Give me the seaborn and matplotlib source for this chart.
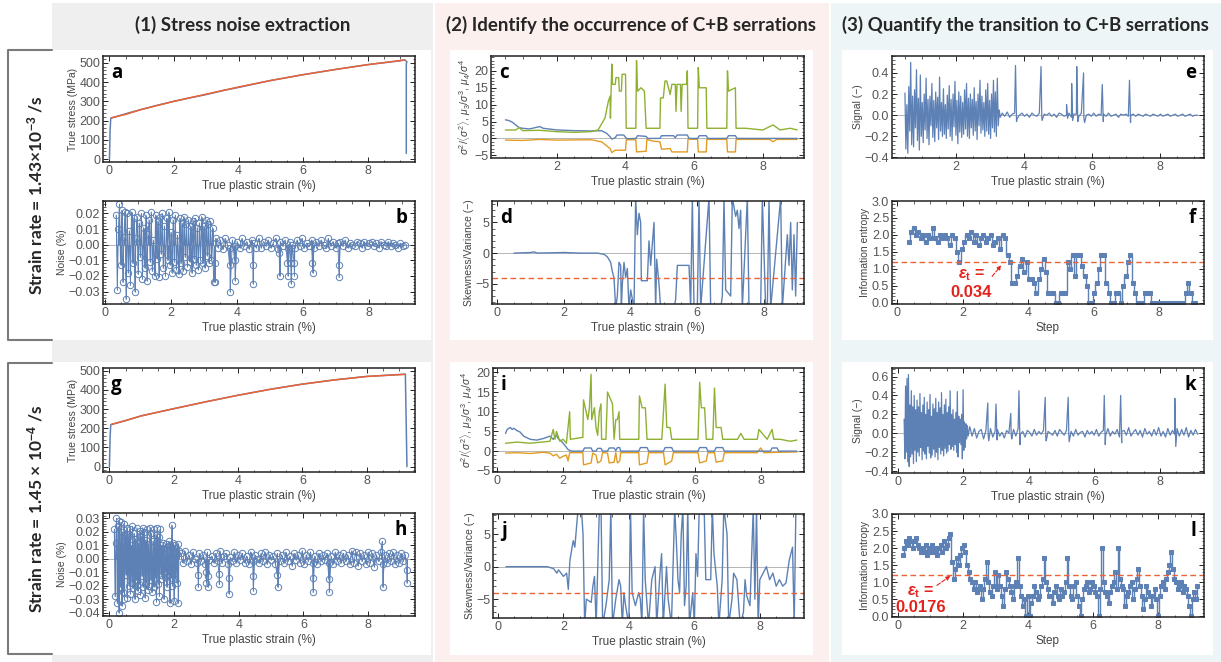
import matplotlib
matplotlib.use('Agg')
import matplotlib.pyplot as plt
import numpy as np
import seaborn as sns
from matplotlib.lines import Line2D
from matplotlib.patches import Rectangle
from matplotlib.ticker import AutoMinorLocator, FuncFormatter

sns.set_style('white')
plt.rcParams['font.family'] = ['Liberation Sans', 'DejaVu Sans']
plt.rcParams['mathtext.fontset'] = 'custom'
plt.rcParams['mathtext.rm'] = 'Liberation Sans'
plt.rcParams['mathtext.it'] = 'Liberation Sans:italic'
plt.rcParams['mathtext.bf'] = 'Liberation Sans:bold'
plt.rcParams['mathtext.bfit'] = 'Liberation Sans:italic:bold'

BLUE = '#5E81B5'
ORANGE = '#E19C24'
GREEN = '#8FB131'
RED = '#EB6235'
ANN = '#e3231b'

# ---------------- row 1 : 1.43e-3 /s ----------------
a_strain = [0.0, 0.02, 0.04, 0.3, 0.6, 1.0, 1.5, 2.0, 2.5, 3.0, 3.5, 4.0, 5.0, 6.0, 7.0, 8.0, 9.0, 9.15, 9.22, 9.2, 9.2]
a_stress = [0, 150, 212, 225, 240, 258, 280, 300, 318, 335, 355, 372, 408, 438, 465, 490, 510, 515, 505, 495, 30]
a_fit_strain = [0.05, 0.5, 1.0, 2.0, 3.0, 4.0, 5.0, 6.0, 7.0, 8.0, 9.0, 9.15]
a_fit_stress = [214, 232, 258, 300, 337, 374, 408, 438, 465, 490, 511, 514]

b_dense = [0.019, -0.029, 0.010, 0.026, -0.013, 0.022, -0.024, 0.005, 0.021, -0.035,
           0.020, -0.018, 0.009, -0.026, 0.021, -0.012, 0.017, -0.030, 0.004, 0.018,
           -0.019, 0.014, -0.008, 0.020, -0.022, 0.011, -0.015, 0.019, -0.023, 0.007,
           0.016, -0.011, 0.021, -0.017, 0.003, -0.020, 0.019, -0.009, 0.015, -0.021,
           0.018, -0.006, 0.020, -0.015, 0.012, -0.020, 0.017, -0.010, 0.021, -0.013,
           0.008, -0.018, 0.016, -0.011, 0.019, -0.016, 0.006, -0.019, 0.017, -0.012,
           0.014, -0.017, 0.018, -0.008, 0.013, -0.014, 0.016, -0.011, 0.012, -0.018,
           0.015, -0.009, 0.017, -0.013, 0.011, -0.016, 0.014, -0.010, 0.018, -0.012,
           0.012, -0.015, 0.016, -0.007, 0.013, -0.012, 0.015, -0.010, 0.011, -0.024]
b_quiet = [0.004, -0.002, 0.003, -0.003, 0.004, 0.000, -0.002, 0.003, -0.001, 0.002,
           -0.002, 0.004, -0.001, 0.002, -0.003, 0.003, 0.001, -0.002, 0.004, -0.002,
           0.002, -0.001, 0.003, -0.002, 0.001, 0.004, -0.003, 0.002, -0.001, 0.003,
           -0.002, 0.002, 0.000, -0.002, 0.003, -0.001, 0.004, -0.002, 0.001, -0.001,
           0.003, -0.002, 0.002, -0.001, 0.003, 0.000, -0.002, 0.004, -0.001, 0.002,
           -0.002, 0.001, 0.002, -0.001, 0.003, -0.002, 0.001, 0.000, -0.001, 0.002,
           0.001, -0.002, 0.002, -0.001, 0.001, 0.002, -0.001, 0.001, -0.002, 0.002,
           0.000, -0.001, 0.002, -0.001, 0.001, 0.000, -0.002, 0.001, -0.001, 0.000]
b_spike_x = [3.35, 3.8, 3.95, 4.5, 5.3, 5.55, 5.65, 5.75, 6.3, 7.1]
b_spike_mid = [-0.012, -0.013, -0.010, -0.013, -0.005, -0.012, -0.012, -0.012, -0.012, -0.013]
b_spike_y = [-0.024, -0.030, -0.023, -0.025, -0.020, -0.020, -0.025, -0.020, -0.018, -0.021]

c_blue_x = [0.5, 0.6, 0.7, 0.8, 0.9, 1.0, 1.2, 1.5, 1.6, 2.0, 2.5, 3.0, 3.3, 3.45, 3.55, 3.6, 3.7, 3.75, 3.95, 4.0,
            4.05, 4.3, 4.35, 4.6, 4.65, 5.0, 5.05, 5.4, 5.45, 5.5, 5.8, 5.85, 6.1, 6.15, 6.35, 6.4, 6.95, 7.0, 7.2,
            7.25, 9.0]
c_blue_y = [5.5, 5.3, 4.8, 4.0, 3.2, 3.0, 2.8, 3.5, 3.0, 2.5, 2.3, 2.2, 2.3, 1.5, 0.5, -0.2, 0.2, 1.0, 1.0, 0.3,
            -0.1, 0.0, 0.8, 0.6, 0.0, 0.0, 0.8, 0.8, 0.2, 1.0, 1.0, 0.0, 0.0, 0.8, 0.8, 0.0, 0.0, 0.8, 0.8,
            0.0, 0.0]
c_orange_x = [0.5, 1.0, 1.5, 2.0, 3.0, 3.3, 3.45, 3.55, 3.6, 3.7, 4.0, 4.02, 4.3, 4.32, 4.6, 4.62, 4.8, 5.0, 5.05,
              5.3, 5.35, 5.8, 5.82, 6.1, 6.12, 6.35, 6.37, 6.95, 6.97, 7.2, 7.22, 8.2, 8.3, 8.4, 9.0]
c_orange_y = [-0.5, -0.6, -0.3, -0.5, -0.4, -1.0, -2.2, -3.0, -4.2, -3.5, -3.5, -0.4, -0.4, -4.0, -3.8, -0.3,
              -0.8, -1.0, -3.2, -3.0, -4.0, -4.0, -0.2, -0.3, -4.0, -4.0, -0.3, -0.3, -4.0, -4.0, -0.3, -0.3,
              -1.0, -0.3, -0.3]
c_green_x = [0.5, 0.8, 0.9, 1.0, 1.5, 2.0, 2.5, 3.0, 3.2, 3.4, 3.5, 3.55, 3.56, 3.6, 3.62, 3.7, 3.72, 3.8, 3.82,
             3.88, 3.9, 4.0, 4.02, 4.3, 4.32, 4.35, 4.45, 4.55, 4.6, 5.0, 5.02, 5.1, 5.15, 5.2, 5.3, 5.35, 5.45,
             5.47, 5.5, 5.6, 5.62, 5.65, 5.78, 5.8, 5.82, 6.1, 6.12, 6.15, 6.35, 6.37, 6.95, 6.97, 7.0, 7.2, 7.22,
             7.5, 8.0, 8.3, 8.5, 8.8, 9.0]
c_green_y = [2.5, 2.5, 3.2, 2.3, 2.4, 2.0, 1.8, 2.0, 2.5, 6.0, 11.0, 12.5, 6.0, 22.0, 16.0, 16.0, 18.0, 18.0, 14.0,
             14.0, 19.0, 19.0, 3.0, 3.0, 23.0, 14.0, 15.0, 14.0, 3.0, 3.0, 12.0, 12.0, 17.0, 17.0, 13.0, 16.0, 16.0,
             8.0, 16.0, 16.0, 8.0, 16.0, 16.0, 20.0, 3.0, 3.0, 21.0, 15.0, 15.0, 3.0, 3.0, 20.0, 14.0, 15.0, 3.0,
             3.0, 2.5, 4.0, 2.5, 3.0, 2.5]

d_x = [0.5, 1.0, 1.1, 1.2, 2.0, 2.5, 3.0, 3.2, 3.3, 3.4, 3.45, 3.5, 3.55, 3.6, 3.65, 3.7, 3.72, 3.75, 3.8, 3.85,
       3.9, 3.95, 4.0, 4.1, 4.15, 4.2, 4.25, 4.3, 4.32, 4.5, 4.55, 4.6, 4.7, 4.75, 4.78, 4.85, 4.9, 5.3, 5.35,
       5.4, 5.75, 5.8, 5.85, 5.9, 6.0, 6.05, 6.1, 6.35, 6.4, 6.7, 6.75, 6.8, 6.85, 7.0, 7.05, 7.15, 7.2, 7.25,
       7.3, 7.35, 7.5, 7.55, 7.9, 7.95, 8.05, 8.1, 8.15, 8.2, 8.5, 8.55, 8.7, 8.75, 8.8, 8.85, 8.9, 8.95, 9.0]
d_y = [0.0, 0.1, 0.2, 0.0, 0.1, 0.0, 0.0, -0.2, -0.6, -1.5, -3.0, -4.0, -9.0, -7.0, -1.5, -2.0, -9.0, -5.0, -1.5,
       -4.0, -2.5, -9.0, -6.0, -9.0, 9.0, 3.0, 6.5, 5.0, -4.5, -4.5, 2.0, -2.0, 5.0, -9.0, -1.0, -5.0, -9.0,
       -9.0, -7.5, -2.0, -2.0, -9.0, 9.0, -9.0, -9.0, 9.0, -9.0, 9.0, -9.0, -9.0, -7.0, 9.0, -6.0, -7.0, 9.0,
       6.0, 7.0, 4.0, 7.0, -9.0, 9.0, -9.0, -9.0, 9.0, -9.0, -9.0, 9.0, -9.0, 9.0, -9.0, 3.0, -2.0, 5.0, -6.0,
       3.0, -7.0, 5.0]

e_dense = [0.21, -0.32, 0.10, -0.36, 0.27, -0.15, 0.50, -0.28, 0.18, -0.30,
           0.24, -0.12, 0.43, -0.24, 0.16, -0.33, 0.38, -0.20, 0.12, -0.26,
           0.20, -0.14, 0.35, -0.22, 0.15, -0.28, 0.18, -0.10, 0.30, -0.21,
           0.14, -0.25, 0.22, -0.12, 0.17, -0.23, 0.36, -0.15, 0.12, -0.20,
           0.25, -0.18, 0.10, -0.22, 0.19, -0.13, 0.28, -0.20, 0.15, -0.24,
           0.20, -0.11, 0.32, -0.19, 0.14, -0.27, 0.22, -0.16, 0.18, -0.21,
           0.12, -0.18, 0.24, -0.13, 0.30, -0.20, 0.16, -0.22, 0.20, -0.12,
           0.15, -0.19, 0.26, -0.15, 0.13, -0.23, 0.20, -0.10, 0.33, -0.17,
           0.18, -0.14, 0.12, -0.20, 0.24, -0.15, 0.30, -0.18, 0.14, -0.22,
           0.20, -0.12, 0.33, -0.16, 0.22, -0.20, 0.35, -0.10, 0.05, -0.02]
e_quiet = [0.02, -0.01, 0.03, -0.02, 0.01, 0.02, -0.03, 0.00, 0.02, -0.01,
           0.01, -0.02, 0.02, 0.00, -0.01, 0.02, -0.02, 0.01, 0.00, 0.02,
           -0.01, 0.01, -0.02, 0.02, 0.01, -0.01, 0.00, 0.02, -0.02, 0.01,
           0.01, -0.01, 0.02, -0.02, 0.00, 0.01, -0.01, 0.02, -0.01, 0.01,
           0.00, 0.01, -0.01, 0.02, -0.01, 0.00, 0.01, -0.02, 0.01, 0.00,
           0.01, -0.01, 0.00, 0.01, -0.01, 0.01, 0.00, -0.01, 0.01, 0.00,
           -0.01, 0.01, 0.00, -0.01, 0.01, -0.01, 0.00, 0.01, -0.01, 0.00,
           0.01, -0.01, 0.00, 0.01, -0.01, 0.00, 0.01, -0.01, 0.00, 0.00]
e_spike_x = [3.75, 4.5, 5.25, 5.4, 5.55, 5.75, 6.3, 7.1]
e_spike_y = [0.47, 0.46, 0.10, 0.30, 0.46, 0.40, 0.29, 0.33]
e_dip_y = [-0.06, -0.05, -0.03, -0.05, -0.06, -0.07, -0.06, -0.07]

f_entropy = [1.8, 2.1, 2.2, 2.0, 2.1, 1.9, 2.0, 1.8, 2.0, 1.9, 2.2, 1.9, 1.8, 2.0, 1.9, 2.0, 1.9, 1.7, 2.0, 1.9,
             1.5, 1.2, 1.6, 1.8, 2.0, 1.9, 2.1, 1.8, 2.0, 1.7, 1.9, 2.0, 1.8, 1.9, 2.0, 1.7, 1.8, 1.9, 1.6, 2.0,
             1.9, 1.4, 1.2, 0.6, 0.6, 0.8, 1.1, 1.3, 0.9, 1.2, 0.7, 0.7, 0.6, 0.3, 0.7, 1.0, 1.3, 0.9, 0.3, 0.3,
             0.3, 0.0, 0.0, 0.3, 0.3, 0.3, 1.2, 1.0, 1.4, 0.8, 1.4, 1.4, 1.1, 0.8, 0.5, 0.0, 0.0, 0.3, 0.6, 1.0,
             1.4, 1.4, 0.6, 0.3, 0.0, 0.0, 0.3, 0.3, 0.0, 0.5, 0.8, 1.2, 1.4, 0.6, 0.3, 0.0, 0.0, 0.0, 0.3, 0.3,
             0.3, 0.0, 0.0, 0.0, 0.0, 0.0, 0.0, 0.0, 0.0, 0.0, 0.0, 0.0, 0.0, 0.0, 0.0, 0.3, 0.6, 0.3, 0.0, 0.0]
f_threshold = 1.2

# ---------------- row 2 : 1.45e-4 /s ----------------
g_strain = [0.0, 0.02, 0.04, 0.5, 1.0, 2.0, 3.0, 4.0, 5.0, 6.0, 7.0, 8.0, 9.0, 9.2, 9.25]
g_stress = [0, 150, 218, 240, 265, 302, 338, 372, 403, 430, 452, 470, 480, 482, 0]
g_fit_strain = [0.05, 0.5, 1.0, 2.0, 3.0, 4.0, 5.0, 6.0, 7.0, 8.0, 9.0, 9.2]
g_fit_stress = [220, 240, 265, 302, 338, 372, 403, 430, 452, 470, 479, 481]

h_dense = [0.022, -0.028, 0.012, 0.030, -0.033, 0.024, -0.040, 0.028, -0.021, 0.027,
           -0.035, 0.020, -0.025, 0.026, -0.030, 0.018, -0.012, 0.023, -0.029, 0.016,
           -0.020, 0.022, -0.026, 0.010, -0.018, 0.024, -0.022, 0.019, -0.030, 0.015,
           -0.016, 0.023, -0.024, 0.012, -0.019, 0.021, -0.027, 0.017, -0.013, 0.023,
           -0.021, 0.020, -0.029, 0.014, -0.018, 0.022, -0.023, 0.011, -0.020, 0.023,
           -0.016, 0.019, -0.025, 0.013, -0.021, 0.022, -0.014, 0.018, -0.032, 0.023,
           -0.019, 0.016, -0.028, 0.022, -0.012, 0.010, -0.015, 0.012, -0.030, 0.008,
           -0.010, 0.011, -0.021, 0.009, -0.012, 0.013, -0.033, 0.010, -0.014, 0.025,
           -0.020, 0.012, -0.031, 0.010, -0.015, 0.008, -0.018, 0.011, -0.033, 0.006]
h_quiet = [0.004, -0.003, 0.006, -0.002, 0.003, -0.004, 0.005, 0.000, -0.003, 0.004,
           -0.002, 0.003, -0.004, 0.005, -0.001, 0.002, -0.003, 0.004, -0.002, 0.006,
           -0.003, 0.002, 0.004, -0.004, 0.001, -0.002, 0.005, -0.003, 0.003, -0.001,
           0.004, -0.003, 0.002, -0.004, 0.005, -0.002, 0.003, 0.000, -0.003, 0.004,
           -0.002, 0.005, -0.004, 0.003, -0.001, 0.002, -0.004, 0.004, -0.002, 0.003,
           -0.003, 0.005, -0.002, 0.002, -0.005, 0.004, -0.001, 0.003, -0.003, 0.006,
           -0.004, 0.003, -0.002, 0.005, -0.003, 0.002, -0.004, 0.004, -0.002, 0.003,
           -0.001, 0.004, -0.003, 0.002, -0.004, 0.005, -0.002, 0.003, -0.003, 0.004,
           -0.002, 0.003, -0.004, 0.006, -0.003, 0.005, -0.005, 0.004, -0.002, 0.003,
           -0.004, 0.005, -0.003, 0.004, -0.006, 0.003, -0.002, 0.005, -0.004, 0.003,
           -0.003, 0.004, -0.002, 0.005, -0.004, 0.003, -0.003, 0.004, -0.002, 0.003]
h_spike_x = [2.75, 3.0, 3.05, 3.4, 3.7, 4.45, 5.2, 6.3, 6.8, 8.45, 9.2]
h_spike_mid = [-0.012, -0.010, -0.013, -0.011, -0.014, -0.013, -0.012, -0.014, -0.015, 0.013, -0.008]
h_spike_y = [-0.021, -0.018, -0.021, -0.019, -0.026, -0.024, -0.021, -0.025, -0.025, -0.021, -0.018]

i_blue_x = [0.25, 0.3, 0.35, 0.4, 0.45, 0.5, 0.6, 0.7, 0.8, 0.9, 1.0, 1.2, 1.4, 1.5, 1.6, 1.7, 1.8, 1.85, 1.95,
            2.05, 2.15, 2.25, 2.6, 2.65, 2.85, 2.9, 3.0, 3.05, 3.15, 3.2, 3.35, 3.4, 3.55, 3.6, 3.65, 3.72, 3.75,
            4.3, 4.35, 4.55, 4.6, 5.05, 5.1, 5.3, 5.35, 6.1, 6.15, 6.35, 6.4, 6.6, 6.65, 6.85, 6.9, 8.3, 8.35,
            8.5, 8.55, 9.1]
i_blue_y = [4.5, 5.5, 5.8, 6.0, 5.5, 5.8, 5.2, 4.8, 3.8, 3.4, 3.0, 2.8, 3.2, 3.5, 3.8, 3.0, 4.0, 3.2, 2.5,
            1.5, 0.4, 0.0, 0.0, 0.8, 0.8, 0.0, 0.0, 0.7, 0.7, 0.0, 0.0, 0.8, 0.8, 0.1, 0.9, 0.9, 0.0,
            0.0, 0.9, 0.9, 0.0, 0.0, 0.9, 0.9, 0.0, 0.0, 0.9, 0.9, 0.0, 0.0, 0.9, 0.9, 0.0, 0.0, 0.8,
            0.8, 0.0, 0.0]
i_orange_x = [0.25, 0.6, 1.0, 1.4, 1.6, 1.7, 1.8, 1.9, 2.0, 2.1, 2.15, 2.2, 2.6, 2.62, 2.85, 2.9, 3.0, 3.05, 3.15,
              3.2, 3.35, 3.4, 3.55, 3.6, 3.65, 3.72, 3.75, 4.3, 4.32, 4.55, 4.6, 5.05, 5.1, 5.3, 5.35, 6.1,
              6.15, 6.35, 6.4, 6.6, 6.65, 6.85, 6.9, 7.9, 8.0, 8.1, 9.1]
i_orange_y = [-0.5, -0.4, -0.6, -0.3, -0.5, -1.2, -0.8, -1.8, -1.3, -1.0, -2.5, -0.4, -0.4, -3.5, -3.0, -0.5,
              -1.0, -3.0, -2.5, -0.4, -0.5, -3.0, -2.8, -0.4, -3.0, -2.5, -0.4, -0.4, -3.5, -3.0, -0.4, -0.4,
              -3.5, -2.5, -0.4, -0.4, -3.0, -2.5, -0.4, -0.4, -2.8, -2.5, -0.4, -0.4, 0.8, -0.4, -0.2]
i_green_x = [0.25, 0.6, 1.0, 1.6, 1.7, 1.75, 1.8, 1.9, 2.0, 2.1, 2.15, 2.2, 2.22, 2.6, 2.62, 2.7, 2.75, 2.8, 2.85,
             2.87, 2.95, 3.0, 3.05, 3.1, 3.15, 3.17, 3.3, 3.35, 3.4, 3.5, 3.55, 3.6, 3.65, 3.7, 3.72, 4.3, 4.32,
             4.4, 4.5, 4.55, 5.0, 5.1, 5.15, 5.25, 5.3, 6.1, 6.15, 6.2, 6.3, 6.35, 6.55, 6.6, 6.65, 6.8, 6.85,
             7.3, 7.4, 7.5, 7.9, 7.95, 8.1, 8.2, 8.35, 8.4, 8.6, 8.9, 9.1]
i_green_y = [2.0, 2.3, 2.0, 2.5, 5.5, 3.0, 5.0, 2.5, 3.0, 2.0, 6.0, 10.0, 3.0, 3.5, 13.0, 10.0, 8.0, 11.0, 19.5,
             8.0, 11.0, 6.0, 4.0, 10.0, 12.0, 3.0, 3.0, 15.0, 14.0, 12.0, 3.0, 8.0, 8.0, 10.0, 3.0, 3.0, 14.0,
             11.0, 11.0, 3.0, 3.0, 17.0, 6.0, 6.0, 3.0, 3.0, 17.5, 11.0, 11.0, 3.0, 3.0, 16.0, 6.0, 6.0, 3.0,
             3.0, 4.5, 3.0, 3.0, 5.5, 4.0, 3.0, 5.5, 3.0, 3.0, 2.5, 2.8]

j_x = [0.25, 1.0, 1.5, 1.7, 1.8, 1.85, 1.9, 2.0, 2.1, 2.15, 2.2, 2.3, 2.35, 2.4, 2.45, 2.55, 2.6, 2.65, 2.7, 2.85,
       2.9, 2.95, 3.0, 3.1, 3.15, 3.2, 3.3, 3.4, 3.45, 3.5, 3.6, 3.7, 3.75, 3.8, 3.85, 3.9, 4.0, 4.05, 4.1, 4.2,
       4.3, 4.35, 4.4, 4.45, 4.5, 4.6, 4.7, 4.8, 4.85, 4.95, 5.0, 5.05, 5.15, 5.2, 5.3, 5.4, 5.45, 5.5, 5.55,
       5.6, 5.65, 5.7, 5.75, 5.8, 5.85, 5.95, 6.0, 6.05, 6.1, 6.15, 6.25, 6.3, 6.35, 6.5, 6.55, 6.6, 6.7, 6.75,
       6.85, 6.9, 7.0, 7.05, 7.15, 7.2, 7.3, 7.4, 7.5, 7.55, 7.6, 7.7, 7.8, 7.85, 7.9, 7.95, 8.0, 8.1, 8.2,
       8.3, 8.4, 8.5, 8.6, 8.7, 8.8, 8.9, 9.0, 9.05, 9.1, 9.15]
j_y = [0.0, 0.0, 0.0, -0.3, -1.0, -0.5, -0.8, -1.5, -1.0, -3.5, 1.0, 4.0, 3.0, 6.0, 9.0, 9.0, 5.0, -9.0, -5.0,
       -5.5, -3.0, -1.5, -9.0, 9.0, 9.0, -9.0, -6.0, -2.0, 9.0, -9.0, -5.0, -2.0, -3.0, -9.0, -4.0, -6.0, -9.0,
       9.0, -4.0, -6.0, -4.0, -5.0, -9.0, 9.0, -2.0, -9.0, -2.0, 0.0, -9.0, -1.0, 2.0, -9.0, 0.0, -5.0, -9.0,
       9.0, 4.0, -2.0, -4.0, 5.0, 9.0, -6.0, -3.0, 9.0, -9.0, -4.0, -9.0, 2.0, -1.5, 9.0, 8.0, 9.0, -2.0, -2.0,
       9.0, 2.0, -3.0, -9.0, -2.0, 9.0, 5.0, -9.0, -5.0, -1.0, -2.0, -9.0, -7.0, -2.0, -4.5, -6.0, 9.0, -5.0,
       9.0, -9.0, -2.0, -1.0, 0.0, -2.0, -1.0, -3.0, -2.0, -3.0, -2.5, 1.0, 3.0, -9.0, 8.0, 9.0]

k_dense = [0.15, -0.27, 0.50, -0.20, 0.58, -0.30, 0.62, -0.35, 0.30, -0.25,
           0.45, -0.22, 0.28, -0.32, 0.40, -0.18, 0.25, -0.30, 0.35, -0.20,
           0.28, -0.24, 0.42, -0.15, 0.22, -0.28, 0.30, -0.19, 0.38, -0.22,
           0.20, -0.27, 0.33, -0.14, 0.25, -0.21, 0.41, -0.26, 0.18, -0.23,
           0.31, -0.17, 0.26, -0.25, 0.37, -0.20, 0.22, -0.28, 0.33, -0.15,
           0.27, -0.22, 0.43, -0.18, 0.20, -0.24, 0.30, -0.16, 0.36, -0.21,
           0.22, -0.19, 0.28, -0.12, 0.45, -0.17, 0.20, -0.14, 0.25, -0.18,
           0.15, -0.12, 0.22, -0.20, 0.44, -0.25, 0.18, -0.10, 0.15, -0.12,
           0.20, -0.27, 0.46, -0.18, 0.12, -0.15, 0.10, -0.06, 0.08, -0.03]
k_quiet = [0.07, -0.03, 0.05, -0.05, 0.02, 0.04, -0.06, 0.03, -0.02, 0.05,
           -0.04, 0.02, 0.04, -0.03, 0.01, -0.05, 0.03, 0.00, -0.02, 0.04,
           -0.03, 0.05, -0.01, 0.02, -0.04, 0.03, 0.01, -0.03, 0.04, -0.02,
           0.02, -0.01, 0.03, -0.04, 0.02, 0.00, -0.02, 0.03, -0.03, 0.04,
           0.01, -0.02, 0.03, -0.01, 0.02, -0.03, 0.04, -0.02, 0.01, 0.02,
           -0.04, 0.03, -0.01, 0.02, -0.02, 0.04, -0.03, 0.01, 0.03, -0.02,
           0.05, -0.03, 0.02, -0.01, 0.04, -0.04, 0.02, 0.03, -0.02, 0.06,
           -0.03, 0.01, 0.04, -0.02, 0.03, -0.04, 0.05, -0.01, 0.02, -0.03,
           0.04, -0.02, 0.06, -0.03, 0.02, -0.04, 0.05, -0.02, 0.03, -0.01,
           0.05, -0.03, 0.04, -0.02, 0.06, -0.04, 0.03, -0.02, 0.04, -0.01]
k_spike_x = [2.75, 3.0, 3.45, 3.7, 4.5, 5.2, 6.3, 6.8, 8.45]
k_spike_y = [0.32, 0.31, 0.21, 0.45, 0.38, 0.38, 0.40, 0.40, 0.37]
k_dip_y = [-0.08, -0.07, -0.06, -0.12, -0.08, -0.09, -0.12, -0.10, -0.14]

l_entropy = [1.8, 2.0, 2.2, 2.1, 2.3, 2.2, 2.0, 2.2, 2.3, 2.1, 2.0, 1.9, 2.0, 1.9, 2.1, 1.8, 2.0, 1.9, 2.1, 1.9,
             2.0, 1.8, 2.0, 2.1, 1.9, 2.2, 2.0, 2.1, 2.3, 2.4,
             1.6, 1.1, 1.4, 1.7, 1.5, 1.8, 2.0, 2.1, 1.9, 1.5, 1.3, 1.1, 1.0, 0.8, 1.0, 0.7, 0.8, 0.9, 0.5, 0.8,
             1.1, 1.6, 1.0, 0.7, 0.6, 0.9, 1.3, 0.8, 1.2, 0.9,
             0.6, 0.3, 0.8, 1.3, 1.1, 0.9, 0.7, 0.5, 0.9, 1.0, 1.7, 0.9, 0.6, 0.3, 0.5, 0.0, 0.6, 0.0, 0.4, 0.6,
             0.9, 0.7, 0.5, 0.6, 0.9, 1.1, 1.7, 1.0, 0.8, 0.6,
             0.6, 0.4, 0.7, 0.9, 0.6, 0.5, 0.8, 0.6, 0.7, 1.0, 1.7, 0.9, 0.6, 0.5, 0.9, 1.0, 0.6, 0.3, 0.0, 0.5,
             0.8, 0.9, 1.0, 0.7, 0.8, 1.0, 0.9, 0.7, 0.6, 0.0,
             0.8, 2.0, 1.0, 0.7, 0.6, 0.4, 0.7, 0.9, 1.0, 1.3, 0.8, 2.0, 1.1, 0.9, 0.8, 0.3, 0.6, 0.7, 0.9, 1.0,
             0.5, 0.8, 1.1, 1.4, 0.9, 0.6, 0.2, 0.5, 0.9, 0.7,
             0.6, 0.3, 0.6, 0.8, 0.5, 0.0, 0.6, 0.9, 1.0, 0.8, 1.1, 1.3, 1.5, 1.9, 1.4, 1.1, 1.0, 0.8, 0.9, 1.0,
             0.7, 0.9, 0.8, 0.6, 0.3, 0.0, 0.5, 0.7, 0.5, 0.9]
l_threshold = 1.2

col_titles = ['(1) Stress noise extraction',
              '(2) Identify the occurrence of C+B serrations',
              '(3) Quantify the transition to C+B serrations']
row_titles = [r'Strain rate = 1.43×10$^{\mathbf{-3}}$ /s',
              r'Strain rate = 1.45 × 10$^{\mathbf{-4}}$ /s']

XL = 'True plastic strain (%)'
MOM = r'$\sigma^2/\langle\sigma^2\rangle$, $\mu_3/\sigma^3$, $\mu_4/\sigma^4$'
EPS = r'$\mathbfit{\varepsilon}_\mathbf{t}$ ='

# ---------------- figure ----------------
W, H = 1221, 662
fig = plt.figure(figsize=(W / 100, H / 100), dpi=100)


def rect(x0, y0, x1, y1, color):
    fig.patches.append(Rectangle((x0 / W, 1 - y1 / H), (x1 - x0) / W, (y1 - y0) / H,
                                 transform=fig.transFigure, color=color, zorder=-10, lw=0))


def add_ax(x0, y0, x1, y1):
    return fig.add_axes([x0 / W, 1 - y1 / H, (x1 - x0) / W, (y1 - y0) / H])


def merge(*parts):
    xs = np.concatenate([np.asarray(p[0], float) for p in parts])
    ys = np.concatenate([np.asarray(p[1], float) for p in parts])
    o = np.argsort(xs, kind='stable')
    return xs[o], ys[o]


def curve(ax, x, y, color=BLUE, lw=1.0, **kw):
    sns.lineplot(x=np.asarray(x, float), y=np.asarray(y, float), ax=ax, color=color, lw=lw,
                 estimator=None, sort=False, legend=False, **kw)


def fmt_fn(f):
    def _f(v, p):
        if abs(v) < 1e-9:
            v = 0.0
        return (f % v).replace('-', '\u2212')
    return FuncFormatter(_f)


def frame(ax, xlim, ylim, xticks, yticks, xlabel, ylabel, fmt=None, zero=False, ylab_size=7.5):
    ax.set_xlim(xlim)
    ax.set_ylim(ylim)
    ax.set_xticks(xticks)
    ax.set_yticks(yticks)
    ax.xaxis.set_minor_locator(AutoMinorLocator(4))
    ax.yaxis.set_minor_locator(AutoMinorLocator(5))
    ax.xaxis.set_major_formatter(fmt_fn('%g'))
    ax.yaxis.set_major_formatter(fmt_fn(fmt if fmt else '%g'))
    ax.tick_params(which='both', direction='in', top=True, right=True, bottom=True, left=True,
                   labelsize=9, labelcolor='#555555', color='#222222', pad=2)
    ax.tick_params(which='major', length=3.5, width=0.7)
    ax.tick_params(which='minor', length=1.8, width=0.5)
    for s in ax.spines.values():
        s.set_linewidth(1.1)
        s.set_color('#222222')
    ax.set_xlabel(xlabel, fontsize=8.5, color='#444444', labelpad=2)
    ax.set_ylabel(ylabel, fontsize=ylab_size, color='#444444', labelpad=1)
    if zero:
        ax.axhline(0, color='#b5b5b5', lw=0.7, zorder=0)
    ax.grid(False)


def letter(ax, s, right=False):
    ax.text(0.975 if right else 0.025, 0.93, s, transform=ax.transAxes, ha='right' if right else 'left',
            va='top', fontsize=13.5, fontweight='bold', family='Open Sans', color='black')


# backgrounds
rect(52, 3, 433, 662, '#efefef')
rect(435, 3, 829, 662, '#fbf0ee')
rect(831, 3, 1221, 662, '#edf5f7')
for (y0, y1) in [(50, 340), (362, 655)]:
    rect(52, y0, 431, y1, 'white')
    rect(450, y0, 813, y1, 'white')
    rect(842, y0, 1213, y1, 'white')

# headers
for xc, t in zip([243, 631, 1025], col_titles):
    fig.text(xc / W, 1 - 25 / H, t, ha='center', va='center', fontsize=13.5, fontweight='bold',
             family=['Lato', 'DejaVu Sans'])

# row labels + brackets
for (y0, y1), t in zip([(50, 340), (363, 654)], row_titles):
    fig.lines.append(Line2D([52 / W, 8 / W, 8 / W, 52 / W], [1 - y0 / H, 1 - y0 / H, 1 - y1 / H, 1 - y1 / H],
                            transform=fig.transFigure, color='#7a7a7a', lw=1.5))
    fig.text(35 / W, 1 - (y0 + y1) / 2 / H, t, rotation=90, ha='center', va='center', fontsize=12.5,
             fontweight='bold', family=['Lato', 'DejaVu Sans'])

# ---- (a)
ax = add_ax(103, 56, 415, 162)
curve(ax, a_strain, a_stress, BLUE, 1.1)
curve(ax, a_fit_strain, a_fit_stress, RED, 1.1)
frame(ax, (-0.2, 9.47), (-15, 535), [0, 2, 4, 6, 8], [0, 100, 200, 300, 400, 500], XL, 'True stress (MPa)')
letter(ax, 'a')

# ---- (b)
ax = add_ax(103, 201, 415, 304)
bx, by = merge((np.linspace(0.35, 3.3, len(b_dense)), b_dense),
               (np.linspace(3.36, 9.1, len(b_quiet)), b_quiet),
               (np.array(b_spike_x) - 0.012, b_spike_mid),
               (b_spike_x, b_spike_y))
ax.vlines(bx, 0, by, color=BLUE, lw=0.7)
curve(ax, bx, by, BLUE, 0.7, marker='o', markersize=4.6, markerfacecolor='none', markeredgecolor=BLUE,
      markeredgewidth=0.7)
frame(ax, (-0.05, 9.4), (-0.038, 0.028), [0, 2, 4, 6, 8], [-0.03, -0.02, -0.01, 0.0, 0.01, 0.02], XL,
      'Noise (%)', fmt='%.2f', zero=True)
letter(ax, 'b', right=True)

# ---- (c)
ax = add_ax(491, 56, 804, 158)
curve(ax, c_orange_x, c_orange_y, ORANGE, 1.0)
curve(ax, c_blue_x, c_blue_y, BLUE, 1.0)
curve(ax, c_green_x, c_green_y, GREEN, 1.0)
frame(ax, (0.08, 9.2), (-5.8, 24.4), [2, 4, 6, 8], [-5, 0, 5, 10, 15, 20], XL, MOM, zero=True, ylab_size=7.5)
letter(ax, 'c')

# ---- (d)
ax = add_ax(492, 201, 804, 304)
curve(ax, d_x, d_y, BLUE, 1.0)
ax.axhline(-4, color=RED, lw=1.0, ls=(0, (4, 2.5)))
frame(ax, (-0.16, 9.2), (-8.3, 8.5), [0, 2, 4, 6, 8], [-5, 0, 5], XL, 'Skewness/Variance (\u2212)', zero=True)
letter(ax, 'd')

# ---- (e)
ax = add_ax(892, 56, 1204, 158)
ex, ey = merge((np.linspace(0.5, 3.3, len(e_dense)), e_dense),
               (np.linspace(3.36, 9.1, len(e_quiet)), e_quiet),
               (e_spike_x, e_spike_y),
               (np.array(e_spike_x) + 0.03, e_dip_y))
curve(ax, ex, ey, BLUE, 0.9)
frame(ax, (0.12, 9.29), (-0.405, 0.56), [2, 4, 6, 8], [-0.4, -0.2, 0.0, 0.2, 0.4], XL, 'Signal (\u2212)',
      fmt='%.1f', zero=True)
letter(ax, 'e', right=True)

# ---- (f)
ax = add_ax(892, 201, 1204, 304)
fx = np.linspace(0.35, 9.1, len(f_entropy))
curve(ax, fx, f_entropy, BLUE, 1.0, drawstyle='steps-mid', marker='s', markersize=2.2,
      markeredgecolor=BLUE, markerfacecolor=BLUE)
ax.axhline(f_threshold, color=RED, lw=1.0, ls=(0, (4, 2.5)))
frame(ax, (-0.16, 9.36), (-0.03, 3.0), [0, 2, 4, 6, 8], [0.0, 0.5, 1.0, 1.5, 2.0, 2.5, 3.0], 'Step',
      'Information entropy', fmt='%.1f')
ax.annotate('', xy=(3.23, 1.17), xytext=(2.84, 0.72),
            arrowprops=dict(arrowstyle='-|>', color=ANN, lw=0.8, ls='--', mutation_scale=6))
ax.text(2.26, 0.81, EPS, color=ANN, fontsize=11.5, fontweight='bold', ha='center', va='center')
ax.text(2.26, 0.31, '0.034', color=ANN, fontsize=12, fontweight='bold', ha='center', va='center')
letter(ax, 'f', right=True)

# ---- (g)
ax = add_ax(103, 368, 415, 472)
curve(ax, g_strain, g_stress, BLUE, 1.1)
curve(ax, g_fit_strain, g_fit_stress, RED, 1.1)
frame(ax, (-0.2, 9.5), (-28, 514), [0, 2, 4, 6, 8], [0, 100, 200, 300, 400, 500], XL, 'True stress (MPa)')
letter(ax, 'g')

# ---- (h)
ax = add_ax(103, 513, 415, 616)
hx, hy = merge((np.linspace(0.15, 2.15, len(h_dense)), h_dense),
               (np.linspace(2.2, 9.15, len(h_quiet)), h_quiet),
               (np.array(h_spike_x) - 0.012, h_spike_mid),
               (h_spike_x, h_spike_y))
ax.vlines(hx, 0, hy, color=BLUE, lw=0.7)
curve(ax, hx, hy, BLUE, 0.7, marker='o', markersize=4.6, markerfacecolor='none', markeredgecolor=BLUE,
      markeredgewidth=0.7)
frame(ax, (-0.2, 9.45), (-0.0425, 0.034), [0, 2, 4, 6, 8],
      [-0.04, -0.03, -0.02, -0.01, 0.0, 0.01, 0.02, 0.03], XL, 'Noise (%)', fmt='%.2f', zero=True)
letter(ax, 'h', right=True)

# ---- (i)
ax = add_ax(493, 368, 804, 472)
curve(ax, i_orange_x, i_orange_y, ORANGE, 1.0)
curve(ax, i_blue_x, i_blue_y, BLUE, 1.0)
curve(ax, i_green_x, i_green_y, GREEN, 1.0)
frame(ax, (-0.13, 9.32), (-5.3, 21.1), [0, 2, 4, 6, 8], [-5, 0, 5, 10, 15, 20], XL, MOM, zero=True,
      ylab_size=7.5)
letter(ax, 'i')

# ---- (j)
ax = add_ax(493, 514, 804, 618)
curve(ax, j_x, j_y, BLUE, 1.0)
ax.axhline(-4, color=RED, lw=1.0, ls=(0, (4, 2.5)))
frame(ax, (-0.15, 9.35), (-7.9, 8.1), [0, 2, 4, 6, 8], [-5, 0, 5], XL, 'Skewness/Variance (\u2212)', zero=True)
letter(ax, 'j')

# ---- (k)
ax = add_ax(892, 368, 1204, 473)
kx, ky = merge((np.linspace(0.2, 2.15, len(k_dense)), k_dense),
               (np.linspace(2.2, 9.15, len(k_quiet)), k_quiet),
               (k_spike_x, k_spike_y),
               (np.array(k_spike_x) + 0.03, k_dip_y))
curve(ax, kx, ky, BLUE, 0.9)
frame(ax, (-0.17, 9.34), (-0.42, 0.69), [0, 2, 4, 6, 8], [-0.4, -0.2, 0.0, 0.2, 0.4, 0.6], XL,
      'Signal (\u2212)', fmt='%.1f', zero=True)
letter(ax, 'k', right=True)

# ---- (l)
ax = add_ax(892, 514, 1204, 617)
lx = np.linspace(0.15, 9.2, len(l_entropy))
curve(ax, lx, l_entropy, BLUE, 1.0, drawstyle='steps-mid', marker='s', markersize=2.2,
      markeredgecolor=BLUE, markerfacecolor=BLUE)
ax.axhline(l_threshold, color=RED, lw=1.0, ls=(0, (4, 2.5)))
frame(ax, (-0.18, 9.4), (-0.02, 3.0), [0, 2, 4, 6, 8], [0.0, 0.5, 1.0, 1.5, 2.0, 2.5, 3.0], 'Step',
      'Information entropy', fmt='%.1f')
ax.annotate('', xy=(1.68, 1.23), xytext=(1.13, 0.86),
            arrowprops=dict(arrowstyle='-|>', color=ANN, lw=0.8, ls='--', mutation_scale=6))
ax.text(0.7, 0.71, EPS, color=ANN, fontsize=11.5, fontweight='bold', ha='center', va='center')
ax.text(0.7, 0.27, '0.0176', color=ANN, fontsize=12, fontweight='bold', ha='center', va='center')
letter(ax, 'l', right=True)

fig.savefig('out.png', dpi=100)
